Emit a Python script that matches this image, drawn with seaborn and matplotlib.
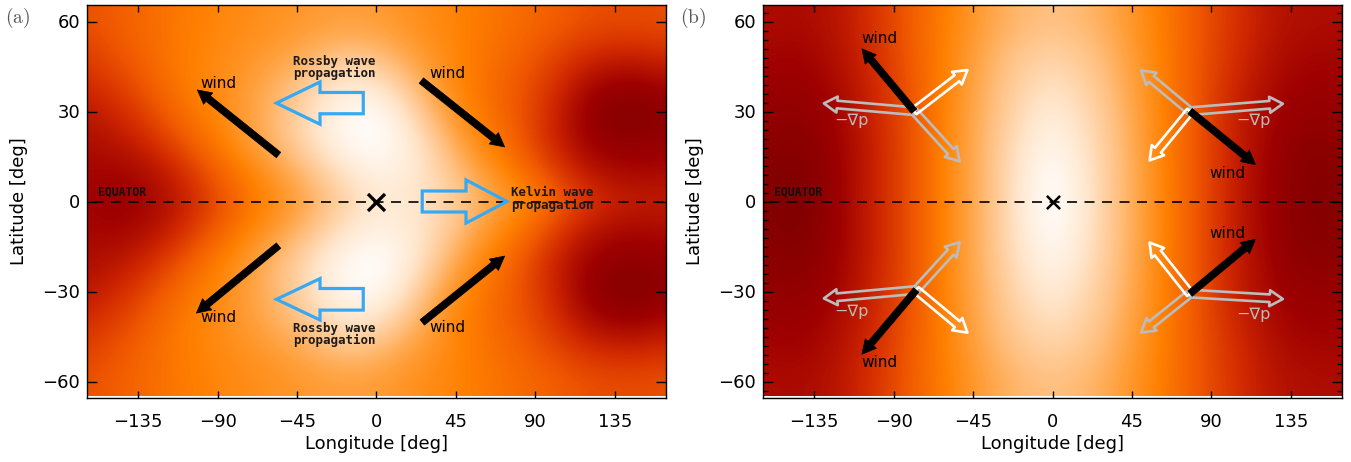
import numpy as np
import matplotlib
matplotlib.use("Agg")
import matplotlib.pyplot as plt
import seaborn as sns
from matplotlib.colors import LinearSegmentedColormap
from matplotlib.patches import Polygon
from matplotlib.ticker import MultipleLocator

# ---------------------------------------------------------------- data
# grid nodes of the temperature maps (longitude every 15 deg, latitude every 10 deg)
lon_nodes = np.arange(-165, 166, 15)
lat_nodes = np.arange(-60, 61, 10)

# normalised temperature, northern hemisphere rows (lat 0, 10, ..., 60);
# both maps are symmetric about the equator
temp_a_north = np.array([
    [0.13, 0.11, 0.12, 0.16, 0.23, 0.32, 0.42, 0.50, 0.58, 0.68, 0.78, 0.86, 0.86, 0.82, 0.76, 0.66, 0.57, 0.48, 0.37, 0.28, 0.23, 0.21, 0.21],
    [0.14, 0.13, 0.15, 0.20, 0.28, 0.38, 0.47, 0.56, 0.65, 0.76, 0.86, 0.92, 0.90, 0.82, 0.70, 0.58, 0.48, 0.38, 0.27, 0.19, 0.15, 0.14, 0.15],
    [0.16, 0.18, 0.22, 0.29, 0.38, 0.47, 0.56, 0.66, 0.76, 0.88, 0.97, 1.00, 0.92, 0.78, 0.62, 0.50, 0.41, 0.30, 0.20, 0.12, 0.09, 0.09, 0.10],
    [0.19, 0.23, 0.29, 0.37, 0.45, 0.51, 0.58, 0.66, 0.76, 0.88, 0.97, 0.97, 0.85, 0.68, 0.54, 0.45, 0.38, 0.30, 0.20, 0.10, 0.06, 0.06, 0.08],
    [0.25, 0.29, 0.35, 0.42, 0.48, 0.52, 0.57, 0.63, 0.70, 0.80, 0.86, 0.83, 0.72, 0.60, 0.50, 0.44, 0.38, 0.32, 0.24, 0.16, 0.12, 0.12, 0.15],
    [0.30, 0.34, 0.39, 0.44, 0.48, 0.51, 0.54, 0.57, 0.61, 0.66, 0.69, 0.67, 0.61, 0.55, 0.50, 0.45, 0.41, 0.36, 0.31, 0.26, 0.24, 0.24, 0.26],
    [0.34, 0.37, 0.40, 0.44, 0.47, 0.50, 0.52, 0.54, 0.56, 0.58, 0.59, 0.58, 0.55, 0.52, 0.49, 0.46, 0.43, 0.40, 0.37, 0.34, 0.33, 0.33, 0.34],
])

temp_b_north = np.array([
    [0.07, 0.04, 0.06, 0.12, 0.20, 0.28, 0.38, 0.50, 0.62, 0.75, 0.90, 1.00, 0.90, 0.76, 0.64, 0.52, 0.40, 0.30, 0.20, 0.13, 0.08, 0.06, 0.07],
    [0.07, 0.05, 0.07, 0.12, 0.20, 0.28, 0.38, 0.50, 0.62, 0.75, 0.89, 0.98, 0.89, 0.76, 0.64, 0.52, 0.40, 0.30, 0.20, 0.13, 0.08, 0.06, 0.07],
    [0.08, 0.07, 0.08, 0.13, 0.20, 0.28, 0.38, 0.50, 0.62, 0.74, 0.86, 0.94, 0.86, 0.75, 0.63, 0.51, 0.40, 0.30, 0.21, 0.14, 0.09, 0.08, 0.08],
    [0.10, 0.09, 0.10, 0.14, 0.21, 0.29, 0.38, 0.50, 0.61, 0.72, 0.82, 0.88, 0.82, 0.73, 0.62, 0.51, 0.40, 0.30, 0.21, 0.15, 0.11, 0.10, 0.10],
    [0.12, 0.11, 0.12, 0.16, 0.22, 0.30, 0.39, 0.49, 0.60, 0.70, 0.78, 0.82, 0.78, 0.70, 0.60, 0.50, 0.40, 0.31, 0.23, 0.17, 0.13, 0.12, 0.12],
    [0.14, 0.13, 0.14, 0.18, 0.24, 0.31, 0.40, 0.49, 0.58, 0.67, 0.73, 0.76, 0.73, 0.67, 0.58, 0.49, 0.40, 0.32, 0.25, 0.19, 0.15, 0.14, 0.14],
    [0.16, 0.15, 0.16, 0.19, 0.25, 0.32, 0.40, 0.48, 0.56, 0.63, 0.68, 0.70, 0.68, 0.63, 0.56, 0.48, 0.40, 0.32, 0.26, 0.20, 0.17, 0.16, 0.16],
])

x_ticks = [-135, -90, -45, 0, 45, 90, 135]
y_ticks = [-60, -30, 0, 30, 60]

# wind vectors (tail lon, tail lat, tip lon, tip lat)
wind_a = [(-55.5, 15.5, -101.5, 37.2), (25.4, 40.3, 72.6, 18.2),
          (-55.5, -14.7, -102.0, -37.2), (25.9, -40.3, 72.6, -18.2)]
wind_a_labels = [(-100, 39.2), (30, 42.8), (-100, -38.7), (30, -42.0)]

# panel (b): force balance clusters: origin, wind tip, -grad p tip, white tip, grey tip
clusters_b = [
    ((-78.4, 30.1), (-108.0, 50.9), (-129.5, 32.7), (-48.2, 43.8), (-52.6, 13.4)),
    ((77.9, 30.1), (115.0, 12.3), (130.5, 32.6), (55.0, 13.7), (50.2, 43.7)),
    ((77.9, -30.7), (115.0, -12.6), (130.5, -32.5), (55.0, -13.7), (50.2, -43.7)),
    ((-77.2, -29.5), (-108.0, -50.9), (-129.5, -32.3), (-48.2, -43.7), (-52.6, -13.6)),
]
wind_b_labels = [(-108, 54.3), (89, 9.5), (89, -10.6), (-108, -53.8)]
gradp_labels = [(-114, 27.1), (114, 27.0), (114, -37.7), (-114, -36.8)]

# ---------------------------------------------------------------- style
sns.set_theme(style="ticks")
plt.rcParams["font.family"] = ["DejaVu Sans"]
plt.rcParams["mathtext.fontset"] = "cm"

cmap = LinearSegmentedColormap.from_list(
    "redtemp",
    [(0.00, "#6e0000"), (0.12, "#9e0000"), (0.24, "#d02800"), (0.36, "#f05800"),
     (0.48, "#ff8000"), (0.58, "#ff9c34"), (0.70, "#ffc080"), (0.84, "#ffe4c8"),
     (1.00, "#ffffff")])

BLUE = "#36a9f5"
GREY = "#bcbcbc"
NOTE_FONT = ["DejaVu Sans Mono"]


def full_map(north):
    return np.vstack([north[:0:-1], north])


def block_arrow(ax, x_tail, x_tip, y, shaft_half, head_half, head_len):
    d = np.sign(x_tip - x_tail)
    xb = x_tip - d * head_len
    verts = [(x_tail, y - shaft_half), (xb, y - shaft_half), (xb, y - head_half),
             (x_tip, y), (xb, y + head_half), (xb, y + shaft_half), (x_tail, y + shaft_half)]
    ax.add_patch(Polygon(verts, closed=True, fill=False, edgecolor=BLUE, lw=2.3,
                         joinstyle="miter", zorder=4))


def solid_arrow(ax, tail, tip):
    ax.annotate("", xy=tip, xytext=tail, zorder=6,
                arrowprops=dict(arrowstyle="simple,head_length=1.0,head_width=1.05,tail_width=0.5",
                                facecolor="black", edgecolor="black", lw=0.5,
                                shrinkA=0, shrinkB=0, mutation_scale=10))


def hollow_arrow(ax, tail, tip, color):
    ax.annotate("", xy=tip, xytext=tail, zorder=5,
                arrowprops=dict(arrowstyle="simple,head_length=0.95,head_width=1.15,tail_width=0.55",
                                facecolor="none", edgecolor=color, lw=1.9,
                                shrinkA=0, shrinkB=0, mutation_scale=10))


def base_map(ax, field, x_marker_size, x_marker_lw):
    ax.imshow(full_map(field), cmap=cmap, vmin=0, vmax=1, origin="lower", aspect="auto",
              interpolation="bicubic",
              extent=[lon_nodes[0] - 7.5, lon_nodes[-1] + 7.5, lat_nodes[0] - 5, lat_nodes[-1] + 5])
    sns.lineplot(x=[-170, 170], y=[0, 0], ax=ax, color="black", lw=1.2,
                 linestyle=(0, (6, 4.5)), zorder=3)
    sns.scatterplot(x=[0], y=[0], ax=ax, marker="x", s=x_marker_size, color="black",
                    linewidth=x_marker_lw, zorder=7)
    ax.text(-158, 0.9, "EQUATOR", fontsize=8.3, family=NOTE_FONT, fontweight="bold",
            color="#111111", ha="left", va="bottom", zorder=5)
    ax.set_xlim(-164, 164)
    ax.set_ylim(-65.5, 65.5)
    ax.set_xticks(x_ticks)
    ax.set_yticks(y_ticks)
    ax.tick_params(axis="both", which="major", direction="in", top=True, right=True,
                   labelsize=13, width=1, color="black", labelcolor="black")
    ax.tick_params(axis="x", which="major", length=5, pad=10.5)
    ax.tick_params(axis="y", which="major", length=7.5, pad=5)
    ax.set_xlabel("Longitude [deg]", fontsize=13, labelpad=3.5, color="black")
    ax.set_ylabel("Latitude [deg]", fontsize=13, labelpad=10, color="black")
    for s in ax.spines.values():
        s.set_linewidth(1)
        s.set_color("black")


fig = plt.figure(figsize=(13.51, 4.62), dpi=100)
ax_a = fig.add_axes([87 / 1351, 64 / 462, 579 / 1351, 393 / 462])
ax_b = fig.add_axes([763 / 1351, 64 / 462, 579 / 1351, 393 / 462])

# ---------------------------------------------------------------- panel (a)
base_map(ax_a, temp_a_north, 150, 2.4)
for (x0, y0, x1, y1) in wind_a:
    solid_arrow(ax_a, (x0, y0), (x1, y1))
for (x, y) in wind_a_labels:
    ax_a.text(x, y, "wind", fontsize=11, ha="left", va="center", color="black", zorder=6)

block_arrow(ax_a, -7.5, -56.7, 32.8, 3.55, 7.05, 24.7)
block_arrow(ax_a, -7.5, -56.7, -32.6, 3.6, 6.9, 24.7)
block_arrow(ax_a, 25.9, 73.9, 0.0, 3.5, 7.2, 23.2)

for (x, y, txt) in [(-47.5, 44.6, "Rossby wave\npropagation"),
                    (-47.5, -44.3, "Rossby wave\npropagation"),
                    (76.4, 0.8, "Kelvin wave\npropagation")]:
    ax_a.text(x, y, txt, fontsize=9, family=NOTE_FONT, fontweight="bold", color="#1a1a1a",
              ha="left", va="center", linespacing=0.95, zorder=6)

# ---------------------------------------------------------------- panel (b)
base_map(ax_b, temp_b_north, 90, 1.8)
ax_b.yaxis.set_minor_locator(MultipleLocator(3))
ax_b.tick_params(axis="y", which="minor", direction="in", left=True, right=True,
                 length=3.6, width=1, color="black")
for origin, wind_tip, gradp_tip, white_tip, grey_tip in clusters_b:
    hollow_arrow(ax_b, origin, gradp_tip, GREY)
    hollow_arrow(ax_b, origin, grey_tip, GREY)
    hollow_arrow(ax_b, origin, white_tip, "white")
    solid_arrow(ax_b, origin, wind_tip)
for (x, y) in wind_b_labels:
    ax_b.text(x, y, "wind", fontsize=11, ha="left", va="center", color="black", zorder=6)
for (x, y) in gradp_labels:
    ax_b.text(x, y, "\u2212\u2207p", fontsize=11.5, ha="center", va="center", color=GREY, zorder=6)

fig.text(18 / 1351, 1 - 18 / 462, r"$\mathrm{(a)}$", fontsize=14, color="#555555",
         ha="center", va="center")
fig.text(693 / 1351, 1 - 18 / 462, r"$\mathrm{(b)}$", fontsize=14, color="#555555",
         ha="center", va="center")

fig.savefig("out.png", dpi=100)
